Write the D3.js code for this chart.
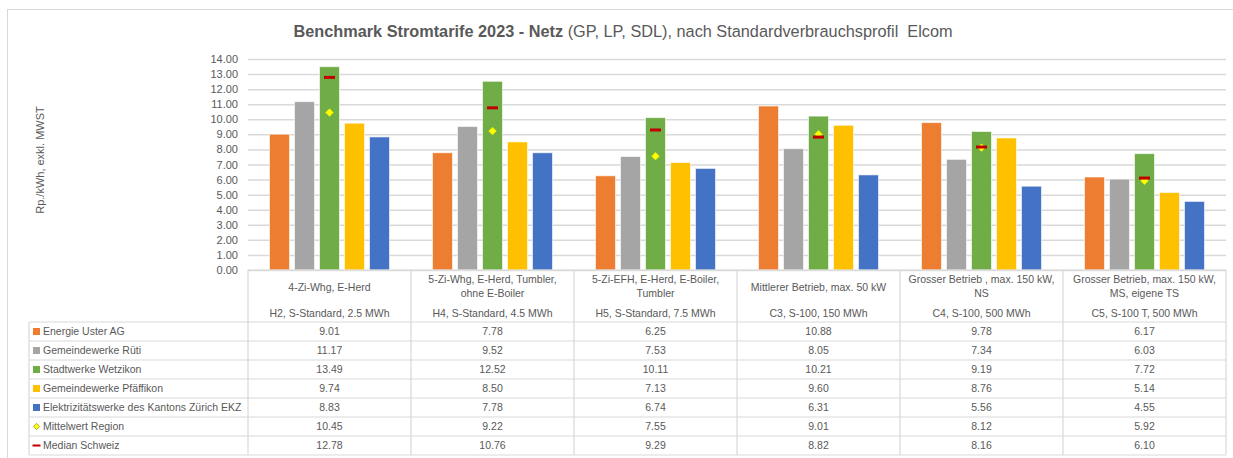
<!DOCTYPE html>
<meta charset="utf-8">
<style>
body { margin: 0; background: #fff; }
svg text { font-family: "Liberation Sans", Arial, sans-serif; fill: #595959; }
</style>
<svg width="1233" height="458"></svg>
<script src="https://cdn.jsdelivr.net/npm/d3@7"></script>
<script>

var catTitle = [
  ["4-Zi-Whg, E-Herd"],
  ["5-Zi-Whg, E-Herd, Tumbler,", "ohne E-Boiler"],
  ["5-Zi-EFH, E-Herd, E-Boiler,", "Tumbler"],
  ["Mittlerer Betrieb, max. 50 kW"],
  ["Grosser Betrieb , max. 150 kW,", "NS"],
  ["Grosser Betrieb, max. 150 kW,", "MS, eigene TS"]
];
var catProfile = ["H2, S-Standard, 2.5 MWh", "H4, S-Standard, 4.5 MWh", "H5, S-Standard, 7.5 MWh",
                  "C3, S-100, 150 MWh", "C4, S-100, 500 MWh", "C5, S-100 T, 500 MWh"];

var seriesNames = ["Energie Uster AG", "Gemeindewerke Rüti", "Stadtwerke Wetzikon",
                   "Gemeindewerke Pfäffikon", "Elektrizitätswerke des Kantons Zürich EKZ"];
var seriesColors = ["#ED7D31", "#A5A5A5", "#70AD47", "#FFC000", "#4472C4"];

var energieUster = [9.01, 7.78, 6.25, 10.88, 9.78, 6.17];
var gwRueti      = [11.17, 9.52, 7.53, 8.05, 7.34, 6.03];
var swWetzikon   = [13.49, 12.52, 10.11, 10.21, 9.19, 7.72];
var gwPfaeffikon = [9.74, 8.50, 7.13, 9.60, 8.76, 5.14];
var ekz          = [8.83, 7.78, 6.74, 6.31, 5.56, 4.55];
var mittelwert   = [10.45, 9.22, 7.55, 9.01, 8.12, 5.92];
var medianCH     = [12.78, 10.76, 9.29, 8.82, 8.16, 6.10];

var yTicks = d3.range(0, 15, 1);

var barSeries = [energieUster, gwRueti, swWetzikon, gwPfaeffikon, ekz];

var svg = d3.select("svg");
var grid = "#d9d9d9";

// outer frame
svg.append("rect").attr("x", 7.5).attr("y", 9.5).attr("width", 1240).attr("height", 470)
   .attr("fill", "none").attr("stroke", grid);

// title
var title = svg.append("text").attr("x", 623).attr("y", 37).attr("text-anchor", "middle")
   .style("font-size", "16.3px");
title.append("tspan").attr("font-weight", "bold").text("Benchmark Stromtarife 2023 - Netz");
title.append("tspan").text(" (GP, LP, SDL), nach Standardverbrauchsprofil\u00a0 Elcom");

var x = d3.scaleBand().domain(d3.range(catProfile.length)).range([248, 1226]);
var xs = d3.scaleBand().domain(d3.range(seriesNames.length)).range([0, x.bandwidth()])
   .paddingInner(0.2).paddingOuter(0.86);
var y = d3.scaleLinear().domain([0, 14]).range([270, 59]);

// gridlines + y axis
var yAxis = d3.axisLeft(y).tickValues(yTicks).tickFormat(d3.format(".2f")).tickSize(-(1226 - 248)).tickPadding(10);
var ga = svg.append("g").attr("transform", "translate(248,0)").call(yAxis);
ga.select(".domain").remove();
ga.selectAll(".tick line").attr("stroke", grid).attr("stroke-width", 1.5);
ga.selectAll(".tick text").style("font-size", "11px").attr("fill", "#595959");

svg.append("text").attr("transform", "translate(44,160) rotate(-90)").attr("text-anchor", "middle")
   .style("font-size", "11px").text("Rp./kWh, exkl. MWST");

// bars
barSeries.forEach(function(vals, s) {
  svg.append("g").selectAll("rect").data(vals).enter().append("rect")
    .attr("x", function(d, i) { return x(i) + xs(s); })
    .attr("width", xs.bandwidth())
    .attr("y", function(d) { return y(d); })
    .attr("height", function(d) { return y(0) - y(d); })
    .attr("fill", seriesColors[s])
    .attr("stroke", "#fff").attr("stroke-opacity", 0.6).attr("stroke-width", 1);
});

var mx = function(i) { return x(i) + xs(2) + xs.bandwidth() / 2; };

// mittelwert diamonds (square turned 45deg)
svg.append("g").selectAll("path").data(mittelwert).enter().append("path")
  .attr("d", d3.symbol(d3.symbolSquare, 30))
  .attr("transform", function(d, i) { return "translate(" + mx(i) + "," + y(d) + ") rotate(45)"; })
  .attr("fill", "#FFFF00").attr("stroke", "#E6E600").attr("stroke-width", 0.5);

// median dashes
svg.append("g").selectAll("rect").data(medianCH).enter().append("rect")
  .attr("x", function(d, i) { return mx(i) - 5.5; })
  .attr("y", function(d) { return y(d) - 1.5; })
  .attr("width", 11).attr("height", 3)
  .attr("fill", "#C00000");

// data table
var rowH = 19, headTop = 270, headBot = 322, tableL = 29, tableR = 1226;
var rows = barSeries.concat([mittelwert, medianCH]);
var rowNames = seriesNames.concat(["Mittelwert Region", "Median Schweiz"]);
var tableBot = headBot + rowH * rows.length;

var t = svg.append("g").attr("stroke", grid).attr("stroke-width", 1.2);
t.append("line").attr("x1", 248).attr("x2", tableR).attr("y1", headTop).attr("y2", headTop);
d3.range(rows.length + 1).forEach(function(r) {
  t.append("line").attr("x1", tableL).attr("x2", tableR)
    .attr("y1", headBot + r * rowH).attr("y2", headBot + r * rowH);
});
t.append("line").attr("x1", tableL).attr("x2", tableL).attr("y1", headBot).attr("y2", tableBot);
d3.range(catProfile.length + 1).forEach(function(i) {
  var xx = i < catProfile.length ? x(i) : tableR;
  t.append("line").attr("x1", xx).attr("x2", xx).attr("y1", headTop).attr("y2", tableBot);
});

// header texts
catTitle.forEach(function(lines, i) {
  var cx = x(i) + x.bandwidth() / 2;
  lines.forEach(function(l, k) {
    var yy = lines.length === 1 ? 291 : 283 + k * 14;
    svg.append("text").attr("x", cx).attr("y", yy).attr("text-anchor", "middle")
      .style("font-size", "10.5px").text(l);
  });
  svg.append("text").attr("x", cx).attr("y", 317).attr("text-anchor", "middle")
    .style("font-size", "10.5px").text(catProfile[i]);
});

// rows
rows.forEach(function(vals, r) {
  var cy = headBot + r * rowH + rowH / 2;
  if (r < 5) {
    svg.append("rect").attr("x", 33).attr("y", cy - 3.5).attr("width", 7).attr("height", 7)
      .attr("fill", seriesColors[r]);
  } else if (r === 5) {
    svg.append("path").attr("d", d3.symbol(d3.symbolSquare, 20))
      .attr("transform", "translate(36.5," + cy + ") rotate(45)")
      .attr("fill", "#FFFF00").attr("stroke", "#9a9a3a").attr("stroke-width", 0.8);
  } else {
    svg.append("rect").attr("x", 32.5).attr("y", cy - 1).attr("width", 8).attr("height", 2)
      .attr("fill", "#C00000");
  }
  svg.append("text").attr("x", 43).attr("y", cy + 3.8).style("font-size", "10.5px").text(rowNames[r]);
  vals.forEach(function(v, i) {
    svg.append("text").attr("x", x(i) + x.bandwidth() / 2).attr("y", cy + 3.8)
      .attr("text-anchor", "middle").style("font-size", "10.5px").text(v.toFixed(2));
  });
});

</script>
